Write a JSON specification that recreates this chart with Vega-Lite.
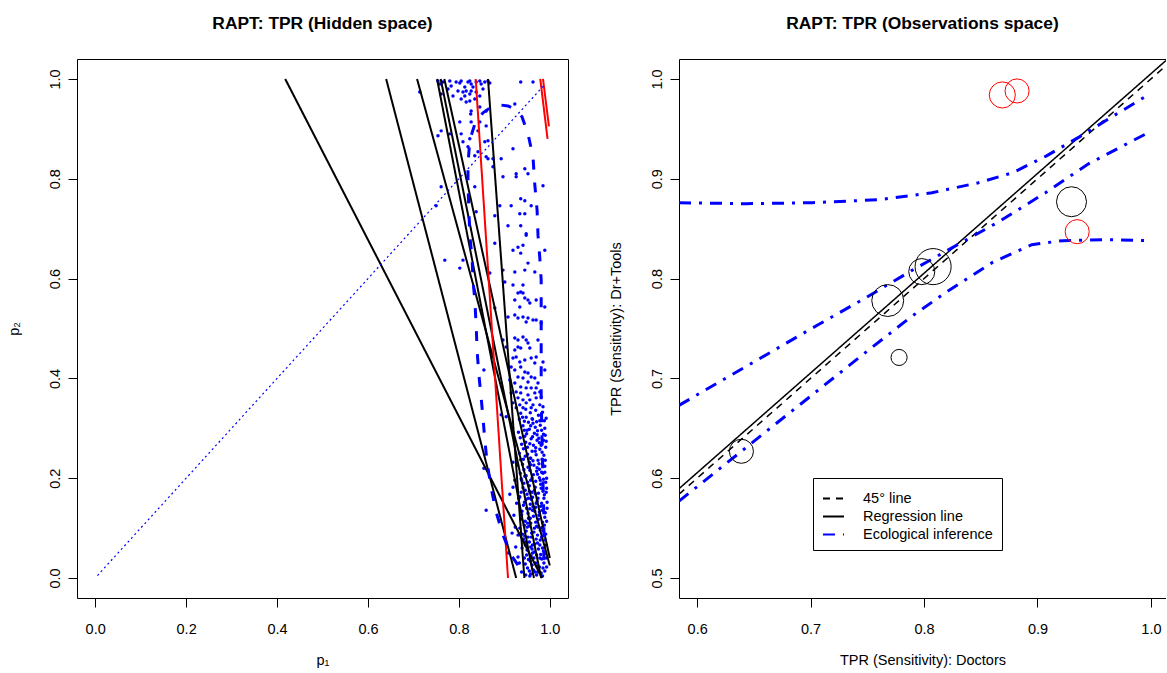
{
  "$schema": "https://vega.github.io/schema/vega-lite/v6.json",
  "background": "white",
  "padding": {"left": 5, "right": 0, "top": 14, "bottom": 0},
  "spacing": 39,
  "config": {
    "font": "Liberation Sans",
    "view": {"stroke": "black", "strokeWidth": 1},
    "axis": {"grid": false, "domain": false, "tickColor": "black", "tickSize": 9, "tickWidth": 1, "labelColor": "black", "labelFontSize": 14.5, "labelFont": "Liberation Sans", "titleColor": "black", "titleFontSize": 14.5, "titleFontWeight": "normal", "titleFont": "Liberation Sans", "labelFlush": false, "labelOverlap": false},
    "axisX": {"labelPadding": 15, "titlePadding": 18},
    "axisY": {"labelAngle": -90, "labelAlign": "center", "labelBaseline": "alphabetic", "labelPadding": 9, "titlePadding": 26},
    "title": {"fontSize": 17.4, "fontWeight": "bold", "font": "Liberation Sans", "color": "black", "anchor": "middle", "frame": "group", "offset": 27}
  },
  "datasets": {
    "diag": [{"p1": 0.005, "p2": 0.005}, {"p1": 0.99, "p2": 0.99}],
    "tomo": [
      {"id": "L1", "p1": 0.418, "p2": 1.0}, {"id": "L1", "p1": 0.983, "p2": 0.0},
      {"id": "L2", "p1": 0.640, "p2": 1.0}, {"id": "L2", "p1": 0.926, "p2": 0.0},
      {"id": "L3", "p1": 0.708, "p2": 1.0}, {"id": "L3", "p1": 1.0, "p2": 0.025},
      {"id": "L4", "p1": 0.752, "p2": 1.0}, {"id": "L4", "p1": 0.965, "p2": 0.0},
      {"id": "L5", "p1": 0.760, "p2": 1.0}, {"id": "L5", "p1": 0.981, "p2": 0.0},
      {"id": "L6", "p1": 0.768, "p2": 1.0}, {"id": "L6", "p1": 1.0, "p2": 0.04},
      {"id": "L7", "p1": 0.864, "p2": 1.0}, {"id": "L7", "p1": 0.944, "p2": 0.0}
    ],
    "redl": [
      {"id": "R1", "p1": 0.837, "p2": 1.0}, {"id": "R1", "p1": 0.908, "p2": 0.0},
      {"id": "R2", "p1": 0.979, "p2": 1.0}, {"id": "R2", "p1": 0.995, "p2": 0.88},
      {"id": "R3", "p1": 0.985, "p2": 1.0}, {"id": "R3", "p1": 0.998, "p2": 0.905}
    ],
    "contour": [
      {"p1": 0.930, "p2": 0.026}, {"p1": 0.915, "p2": 0.046}, {"p1": 0.897, "p2": 0.086}, {"p1": 0.882, "p2": 0.132},
      {"p1": 0.871, "p2": 0.180}, {"p1": 0.862, "p2": 0.232}, {"p1": 0.857, "p2": 0.277}, {"p1": 0.853, "p2": 0.321},
      {"p1": 0.849, "p2": 0.361}, {"p1": 0.844, "p2": 0.407}, {"p1": 0.840, "p2": 0.457}, {"p1": 0.838, "p2": 0.507},
      {"p1": 0.835, "p2": 0.557}, {"p1": 0.831, "p2": 0.597}, {"p1": 0.829, "p2": 0.641}, {"p1": 0.824, "p2": 0.687},
      {"p1": 0.822, "p2": 0.737}, {"p1": 0.820, "p2": 0.788}, {"p1": 0.820, "p2": 0.828}, {"p1": 0.824, "p2": 0.878},
      {"p1": 0.838, "p2": 0.918}, {"p1": 0.853, "p2": 0.932}, {"p1": 0.871, "p2": 0.944}, {"p1": 0.890, "p2": 0.948},
      {"p1": 0.908, "p2": 0.946}, {"p1": 0.926, "p2": 0.938}, {"p1": 0.939, "p2": 0.924}, {"p1": 0.952, "p2": 0.890},
      {"p1": 0.963, "p2": 0.844}, {"p1": 0.967, "p2": 0.788}, {"p1": 0.972, "p2": 0.737}, {"p1": 0.974, "p2": 0.687},
      {"p1": 0.978, "p2": 0.641}, {"p1": 0.981, "p2": 0.597}, {"p1": 0.981, "p2": 0.517}, {"p1": 0.981, "p2": 0.437},
      {"p1": 0.981, "p2": 0.357}, {"p1": 0.983, "p2": 0.277}, {"p1": 0.985, "p2": 0.196}, {"p1": 0.987, "p2": 0.116},
      {"p1": 0.987, "p2": 0.046}, {"p1": 0.983, "p2": 0.012}
    ],
    "dots": [
      {"p1":0.754,"p2":0.996},{"p1":0.758,"p2":0.990},{"p1":0.765,"p2":0.994},{"p1":0.780,"p2":0.996},{"p1":0.783,"p2":0.986},
      {"p1":0.794,"p2":0.994},{"p1":0.802,"p2":0.992},{"p1":0.805,"p2":0.996},{"p1":0.813,"p2":0.984},{"p1":0.820,"p2":0.994},
      {"p1":0.824,"p2":0.996},{"p1":0.827,"p2":0.990},{"p1":0.831,"p2":0.984},{"p1":0.838,"p2":0.994},{"p1":0.846,"p2":0.996},
      {"p1":0.849,"p2":0.990},{"p1":0.857,"p2":0.994},{"p1":0.864,"p2":0.996},{"p1":0.868,"p2":0.992},{"p1":0.853,"p2":0.980},
      {"p1":0.838,"p2":0.974},{"p1":0.827,"p2":0.976},{"p1":0.816,"p2":0.976},{"p1":0.809,"p2":0.974},{"p1":0.798,"p2":0.976},
      {"p1":0.776,"p2":0.980},{"p1":0.761,"p2":0.970},{"p1":0.714,"p2":0.974},{"p1":0.805,"p2":0.960},{"p1":0.824,"p2":0.956},
      {"p1":0.835,"p2":0.960},{"p1":0.846,"p2":0.966},{"p1":0.824,"p2":0.970},{"p1":0.813,"p2":0.966},{"p1":0.787,"p2":0.966},
      {"p1":0.816,"p2":0.954},{"p1":0.936,"p2":0.994},{"p1":0.963,"p2":0.994},{"p1":0.923,"p2":0.950},{"p1":0.860,"p2":0.936},
      {"p1":0.846,"p2":0.944},{"p1":0.827,"p2":0.936},{"p1":0.826,"p2":0.930},{"p1":0.802,"p2":0.914},{"p1":0.805,"p2":0.890},
      {"p1":0.827,"p2":0.914},{"p1":0.846,"p2":0.914},{"p1":0.842,"p2":0.896},{"p1":0.860,"p2":0.906},{"p1":0.857,"p2":0.874},
      {"p1":0.864,"p2":0.876},{"p1":0.761,"p2":0.896},{"p1":0.754,"p2":0.886},{"p1":0.780,"p2":0.890},{"p1":0.809,"p2":0.874},
      {"p1":0.824,"p2":0.880},{"p1":0.820,"p2":0.864},{"p1":0.835,"p2":0.846},{"p1":0.864,"p2":0.840},{"p1":0.875,"p2":0.840},
      {"p1":0.893,"p2":0.840},{"p1":0.860,"p2":0.844},{"p1":0.842,"p2":0.854},{"p1":0.875,"p2":0.824},{"p1":0.897,"p2":0.804},
      {"p1":0.926,"p2":0.810},{"p1":0.926,"p2":0.804},{"p1":0.919,"p2":0.860},{"p1":0.945,"p2":0.820},{"p1":0.952,"p2":0.810},
      {"p1":0.985,"p2":0.786},{"p1":0.936,"p2":0.760},{"p1":0.945,"p2":0.756},{"p1":0.959,"p2":0.746},{"p1":0.915,"p2":0.746},
      {"p1":0.890,"p2":0.746},{"p1":0.934,"p2":0.730},{"p1":0.945,"p2":0.730},{"p1":0.879,"p2":0.726},{"p1":0.908,"p2":0.706},
      {"p1":0.936,"p2":0.706},{"p1":0.948,"p2":0.690},{"p1":0.835,"p2":0.784},{"p1":0.838,"p2":0.734},{"p1":0.761,"p2":0.784},
      {"p1":0.750,"p2":0.746},
      {"p1":0.948,"p2":0.687},{"p1":0.930,"p2":0.663},{"p1":0.941,"p2":0.667},{"p1":0.919,"p2":0.657},{"p1":0.936,"p2":0.651},
      {"p1":0.989,"p2":0.657},{"p1":0.952,"p2":0.631},{"p1":0.945,"p2":0.617},{"p1":0.923,"p2":0.613},{"p1":0.967,"p2":0.613},
      {"p1":0.901,"p2":0.593},{"p1":0.919,"p2":0.587},{"p1":0.941,"p2":0.587},{"p1":0.923,"p2":0.557},{"p1":0.930,"p2":0.571},
      {"p1":0.936,"p2":0.573},{"p1":0.941,"p2":0.571},{"p1":0.945,"p2":0.561},{"p1":0.952,"p2":0.557},{"p1":0.956,"p2":0.551},
      {"p1":0.970,"p2":0.557},{"p1":0.989,"p2":0.543},{"p1":0.934,"p2":0.543},{"p1":0.908,"p2":0.523},{"p1":0.923,"p2":0.527},
      {"p1":0.930,"p2":0.521},{"p1":0.941,"p2":0.523},{"p1":0.948,"p2":0.513},{"p1":0.952,"p2":0.521},{"p1":0.963,"p2":0.517},
      {"p1":0.970,"p2":0.517},{"p1":0.981,"p2":0.511},{"p1":0.897,"p2":0.477},{"p1":0.904,"p2":0.463},{"p1":0.923,"p2":0.481},
      {"p1":0.930,"p2":0.477},{"p1":0.941,"p2":0.483},{"p1":0.948,"p2":0.477},{"p1":0.952,"p2":0.471},{"p1":0.930,"p2":0.463},
      {"p1":0.936,"p2":0.461},{"p1":0.956,"p2":0.461},{"p1":0.974,"p2":0.477},{"p1":0.923,"p2":0.457},{"p1":0.926,"p2":0.443},
      {"p1":0.919,"p2":0.441},{"p1":0.934,"p2":0.433},{"p1":0.945,"p2":0.437},{"p1":0.959,"p2":0.441},{"p1":0.967,"p2":0.431},
      {"p1":0.970,"p2":0.443},{"p1":0.985,"p2":0.433},{"p1":0.915,"p2":0.423},{"p1":0.923,"p2":0.417},{"p1":0.936,"p2":0.423},
      {"p1":0.945,"p2":0.413},{"p1":0.952,"p2":0.411},{"p1":0.930,"p2":0.403},{"p1":0.959,"p2":0.403},{"p1":0.941,"p2":0.401},
      {"p1":0.952,"p2":0.393},{"p1":0.967,"p2":0.401},{"p1":0.974,"p2":0.391},{"p1":0.989,"p2":0.417},{"p1":0.912,"p2":0.397},
      {"p1":0.923,"p2":0.391},{"p1":0.936,"p2":0.383},{"p1":0.948,"p2":0.381},{"p1":0.959,"p2":0.381},{"p1":0.970,"p2":0.381},
      {"p1":0.926,"p2":0.373},{"p1":0.936,"p2":0.371},{"p1":0.952,"p2":0.367},{"p1":0.967,"p2":0.371},{"p1":0.978,"p2":0.373},
      {"p1":0.915,"p2":0.371},{"p1":0.930,"p2":0.361},{"p1":0.941,"p2":0.357},{"p1":0.956,"p2":0.357},{"p1":0.970,"p2":0.361},
      {"p1":0.981,"p2":0.363},{"p1":0.919,"p2":0.351},{"p1":0.934,"p2":0.347},{"p1":0.948,"p2":0.351},{"p1":0.963,"p2":0.347},
      {"p1":0.978,"p2":0.347},{"p1":0.926,"p2":0.341},{"p1":0.941,"p2":0.341},{"p1":0.959,"p2":0.341},{"p1":0.769,"p2":0.637},
      {"p1":0.809,"p2":0.637},{"p1":0.802,"p2":0.621},{"p1":0.868,"p2":0.611},{"p1":0.879,"p2":0.671},{"p1":0.897,"p2":0.617},
      {"p1":0.879,"p2":0.541},{"p1":0.855,"p2":0.417},
      {"p1":0.893,"p2":0.327},{"p1":0.904,"p2":0.323},{"p1":0.860,"p2":0.136},{"p1":0.855,"p2":0.220},{"p1":0.919,"p2":0.232},
      {"p1":0.923,"p2":0.196},{"p1":0.919,"p2":0.182},{"p1":0.930,"p2":0.086},{"p1":0.941,"p2":0.076},{"p1":0.930,"p2":0.042},
      {"p1":0.989,"p2":0.212},{"p1":0.992,"p2":0.172},{"p1":0.985,"p2":0.343},{"p1":0.921,"p2":0.126},
      {"p1":0.936,"p2":0.330},{"p1":0.948,"p2":0.322},{"p1":0.962,"p2":0.318},{"p1":0.975,"p2":0.326},{"p1":0.988,"p2":0.315},
      {"p1":0.941,"p2":0.305},{"p1":0.955,"p2":0.298},{"p1":0.968,"p2":0.302},{"p1":0.982,"p2":0.296},{"p1":0.931,"p2":0.292},
      {"p1":0.945,"p2":0.284},{"p1":0.959,"p2":0.279},{"p1":0.972,"p2":0.287},{"p1":0.986,"p2":0.276},{"p1":0.938,"p2":0.268},
      {"p1":0.951,"p2":0.262},{"p1":0.964,"p2":0.266},{"p1":0.978,"p2":0.258},{"p1":0.991,"p2":0.262},{"p1":0.933,"p2":0.250},
      {"p1":0.946,"p2":0.244},{"p1":0.957,"p2":0.240},{"p1":0.970,"p2":0.247},{"p1":0.983,"p2":0.238},{"p1":0.940,"p2":0.228},
      {"p1":0.952,"p2":0.222},{"p1":0.965,"p2":0.226},{"p1":0.977,"p2":0.218},{"p1":0.989,"p2":0.224},{"p1":0.935,"p2":0.210},
      {"p1":0.948,"p2":0.205},{"p1":0.961,"p2":0.200},{"p1":0.973,"p2":0.208},{"p1":0.986,"p2":0.198},{"p1":0.943,"p2":0.190},
      {"p1":0.955,"p2":0.185},{"p1":0.968,"p2":0.182},{"p1":0.980,"p2":0.188},{"p1":0.993,"p2":0.180},{"p1":0.937,"p2":0.172},
      {"p1":0.950,"p2":0.168},{"p1":0.962,"p2":0.162},{"p1":0.975,"p2":0.170},{"p1":0.987,"p2":0.160},{"p1":0.944,"p2":0.152},
      {"p1":0.957,"p2":0.148},{"p1":0.969,"p2":0.142},{"p1":0.982,"p2":0.150},{"p1":0.994,"p2":0.140},{"p1":0.939,"p2":0.134},
      {"p1":0.952,"p2":0.130},{"p1":0.964,"p2":0.124},{"p1":0.977,"p2":0.132},{"p1":0.989,"p2":0.122},{"p1":0.946,"p2":0.114},
      {"p1":0.958,"p2":0.110},{"p1":0.971,"p2":0.104},{"p1":0.984,"p2":0.112},{"p1":0.934,"p2":0.100},{"p1":0.948,"p2":0.094},
      {"p1":0.960,"p2":0.090},{"p1":0.973,"p2":0.086},{"p1":0.986,"p2":0.094},{"p1":0.942,"p2":0.078},{"p1":0.955,"p2":0.072},
      {"p1":0.967,"p2":0.068},{"p1":0.979,"p2":0.076},{"p1":0.992,"p2":0.066},{"p1":0.950,"p2":0.056},{"p1":0.962,"p2":0.050},
      {"p1":0.975,"p2":0.058},{"p1":0.988,"p2":0.048},{"p1":0.944,"p2":0.040},{"p1":0.957,"p2":0.034},{"p1":0.969,"p2":0.030},
      {"p1":0.982,"p2":0.038},{"p1":0.951,"p2":0.020},{"p1":0.964,"p2":0.016},{"p1":0.977,"p2":0.022},{"p1":0.989,"p2":0.014},
      {"p1":0.958,"p2":0.008},{"p1":0.971,"p2":0.006},{"p1":0.984,"p2":0.004},
      {"p1":0.953,"p2":0.312},{"p1":0.966,"p2":0.290},{"p1":0.979,"p2":0.306},{"p1":0.947,"p2":0.272},{"p1":0.961,"p2":0.254},
      {"p1":0.974,"p2":0.236},{"p1":0.987,"p2":0.246},{"p1":0.942,"p2":0.238},{"p1":0.956,"p2":0.216},{"p1":0.969,"p2":0.194},
      {"p1":0.982,"p2":0.212},{"p1":0.946,"p2":0.176},{"p1":0.959,"p2":0.158},{"p1":0.972,"p2":0.154},{"p1":0.985,"p2":0.174},
      {"p1":0.949,"p2":0.140},{"p1":0.962,"p2":0.136},{"p1":0.975,"p2":0.118},{"p1":0.988,"p2":0.106},{"p1":0.953,"p2":0.120},
      {"p1":0.966,"p2":0.100},{"p1":0.979,"p2":0.096},{"p1":0.945,"p2":0.084},{"p1":0.958,"p2":0.062},{"p1":0.971,"p2":0.046},
      {"p1":0.984,"p2":0.060},{"p1":0.961,"p2":0.026},{"p1":0.974,"p2":0.012},{"p1":0.987,"p2":0.030},{"p1":0.949,"p2":0.046},
      {"p1":0.939,"p2":0.060},{"p1":0.936,"p2":0.118},{"p1":0.932,"p2":0.160},{"p1":0.938,"p2":0.196},{"p1":0.991,"p2":0.088},
      {"p1":0.993,"p2":0.200},{"p1":0.990,"p2":0.286},{"p1":0.976,"p2":0.280},{"p1":0.963,"p2":0.310},{"p1":0.950,"p2":0.296},
      {"p1":0.981,"p2":0.266},{"p1":0.968,"p2":0.254},{"p1":0.955,"p2":0.232},{"p1":0.984,"p2":0.228},{"p1":0.971,"p2":0.214},
      {"p1":0.958,"p2":0.196},{"p1":0.945,"p2":0.204},{"p1":0.979,"p2":0.196},{"p1":0.966,"p2":0.176},{"p1":0.953,"p2":0.160},
      {"p1":0.980,"p2":0.144},{"p1":0.967,"p2":0.134},{"p1":0.954,"p2":0.104},{"p1":0.970,"p2":0.078},{"p1":0.982,"p2":0.082},
      {"p1":0.959,"p2":0.082},{"p1":0.946,"p2":0.066},{"p1":0.965,"p2":0.040},{"p1":0.978,"p2":0.040},{"p1":0.955,"p2":0.014},
      {"p1":0.940,"p2":0.322},{"p1":0.957,"p2":0.331},{"p1":0.971,"p2":0.313},{"p1":0.984,"p2":0.332},{"p1":0.944,"p2":0.314},
      {"p1":0.958,"p2":0.305},{"p1":0.973,"p2":0.295},{"p1":0.989,"p2":0.300},{"p1":0.935,"p2":0.281},{"p1":0.949,"p2":0.289},
      {"p1":0.962,"p2":0.283},{"p1":0.977,"p2":0.271},{"p1":0.992,"p2":0.274},{"p1":0.942,"p2":0.259},{"p1":0.956,"p2":0.269},
      {"p1":0.969,"p2":0.261},{"p1":0.983,"p2":0.252},{"p1":0.936,"p2":0.237},{"p1":0.951,"p2":0.248},{"p1":0.963,"p2":0.235},
      {"p1":0.976,"p2":0.229},{"p1":0.990,"p2":0.236},{"p1":0.943,"p2":0.217},{"p1":0.958,"p2":0.227},{"p1":0.972,"p2":0.221},
      {"p1":0.985,"p2":0.210},{"p1":0.937,"p2":0.199},{"p1":0.951,"p2":0.192},{"p1":0.964,"p2":0.207},{"p1":0.977,"p2":0.201},
      {"p1":0.991,"p2":0.192},{"p1":0.941,"p2":0.181},{"p1":0.955,"p2":0.174},{"p1":0.968,"p2":0.169},{"p1":0.981,"p2":0.180},
      {"p1":0.934,"p2":0.163},{"p1":0.948,"p2":0.158},{"p1":0.961,"p2":0.172},{"p1":0.974,"p2":0.160},{"p1":0.988,"p2":0.167},
      {"p1":0.942,"p2":0.146},{"p1":0.956,"p2":0.139},{"p1":0.970,"p2":0.150},{"p1":0.983,"p2":0.136},{"p1":0.994,"p2":0.152},
      {"p1":0.938,"p2":0.127},{"p1":0.951,"p2":0.110},{"p1":0.963,"p2":0.143},{"p1":0.976,"p2":0.126},{"p1":0.990,"p2":0.131},
      {"p1":0.944,"p2":0.106},{"p1":0.957,"p2":0.120},{"p1":0.969,"p2":0.112},{"p1":0.982,"p2":0.101},{"p1":0.993,"p2":0.114},
      {"p1":0.940,"p2":0.088},{"p1":0.952,"p2":0.082},{"p1":0.965,"p2":0.092},{"p1":0.978,"p2":0.066},{"p1":0.990,"p2":0.076},
      {"p1":0.947,"p2":0.072},{"p1":0.961,"p2":0.058},{"p1":0.973,"p2":0.070},{"p1":0.986,"p2":0.054},{"p1":0.953,"p2":0.037},
      {"p1":0.966,"p2":0.052},{"p1":0.980,"p2":0.047},{"p1":0.992,"p2":0.040},{"p1":0.946,"p2":0.028},{"p1":0.959,"p2":0.044},
      {"p1":0.972,"p2":0.024},{"p1":0.985,"p2":0.020},{"p1":0.956,"p2":0.004},{"p1":0.968,"p2":0.012},{"p1":0.981,"p2":0.010},
      {"p1":0.993,"p2":0.022},{"p1":0.962,"p2":0.066},{"p1":0.974,"p2":0.102},{"p1":0.987,"p2":0.086},{"p1":0.950,"p2":0.102},
      {"p1":0.924,"p2":0.102},{"p1":0.927,"p2":0.150},{"p1":0.925,"p2":0.062},{"p1":0.929,"p2":0.226},{"p1":0.912,"p2":0.168},
      {"p1":0.917,"p2":0.090},{"p1":0.908,"p2":0.050},{"p1":0.933,"p2":0.030},{"p1":0.938,"p2":0.012},{"p1":0.947,"p2":0.006},
      {"p1":0.958,"p2":0.240},{"p1":0.972,"p2":0.276},{"p1":0.986,"p2":0.288},{"p1":0.944,"p2":0.296},{"p1":0.961,"p2":0.319},
      {"p1":0.978,"p2":0.315},{"p1":0.992,"p2":0.320},{"p1":0.933,"p2":0.318},{"p1":0.947,"p2":0.338},{"p1":0.969,"p2":0.336}
    ],
    "ref": [
      {"series": "45° line", "curve": "a", "x": 0.584, "y": 0.584},
      {"series": "45° line", "curve": "a", "x": 1.0133, "y": 1.0133},
      {"series": "Regression line", "curve": "b", "x": 0.584, "y": 0.5895},
      {"series": "Regression line", "curve": "b", "x": 1.0133, "y": 1.0185}
    ],
    "ei": [
      {"series": "Ecological inference", "curve": "u", "x": 0.584, "y": 0.876},
      {"series": "Ecological inference", "curve": "u", "x": 0.643, "y": 0.875},
      {"series": "Ecological inference", "curve": "u", "x": 0.701, "y": 0.876},
      {"series": "Ecological inference", "curve": "u", "x": 0.760, "y": 0.879},
      {"series": "Ecological inference", "curve": "u", "x": 0.807, "y": 0.886},
      {"series": "Ecological inference", "curve": "u", "x": 0.848, "y": 0.896},
      {"series": "Ecological inference", "curve": "u", "x": 0.878, "y": 0.906},
      {"series": "Ecological inference", "curve": "u", "x": 0.908, "y": 0.923},
      {"series": "Ecological inference", "curve": "u", "x": 0.937, "y": 0.942},
      {"series": "Ecological inference", "curve": "u", "x": 0.967, "y": 0.963},
      {"series": "Ecological inference", "curve": "u", "x": 0.996, "y": 0.983},
      {"series": "Ecological inference", "curve": "m", "x": 0.584, "y": 0.673},
      {"series": "Ecological inference", "curve": "m", "x": 0.672, "y": 0.731},
      {"series": "Ecological inference", "curve": "m", "x": 0.707, "y": 0.754},
      {"series": "Ecological inference", "curve": "m", "x": 0.749, "y": 0.781},
      {"series": "Ecological inference", "curve": "m", "x": 0.789, "y": 0.808},
      {"series": "Ecological inference", "curve": "m", "x": 0.825, "y": 0.831},
      {"series": "Ecological inference", "curve": "m", "x": 0.866, "y": 0.857},
      {"series": "Ecological inference", "curve": "m", "x": 0.907, "y": 0.886},
      {"series": "Ecological inference", "curve": "m", "x": 0.945, "y": 0.915},
      {"series": "Ecological inference", "curve": "m", "x": 0.999, "y": 0.947},
      {"series": "Ecological inference", "curve": "l", "x": 0.584, "y": 0.577},
      {"series": "Ecological inference", "curve": "l", "x": 0.661, "y": 0.647},
      {"series": "Ecological inference", "curve": "l", "x": 0.754, "y": 0.731},
      {"series": "Ecological inference", "curve": "l", "x": 0.789, "y": 0.762},
      {"series": "Ecological inference", "curve": "l", "x": 0.819, "y": 0.786},
      {"series": "Ecological inference", "curve": "l", "x": 0.860, "y": 0.816},
      {"series": "Ecological inference", "curve": "l", "x": 0.895, "y": 0.834},
      {"series": "Ecological inference", "curve": "l", "x": 0.922, "y": 0.838},
      {"series": "Ecological inference", "curve": "l", "x": 0.960, "y": 0.839},
      {"series": "Ecological inference", "curve": "l", "x": 0.996, "y": 0.838}
    ],
    "circ": [
      {"x": 0.639, "y": 0.627, "n": 58, "flag": "in"},
      {"x": 0.778, "y": 0.721, "n": 26, "flag": "in"},
      {"x": 0.768, "y": 0.778, "n": 102, "flag": "in"},
      {"x": 0.798, "y": 0.807, "n": 68, "flag": "in"},
      {"x": 0.808, "y": 0.812, "n": 130, "flag": "in"},
      {"x": 0.930, "y": 0.877, "n": 90, "flag": "in"},
      {"x": 0.869, "y": 0.984, "n": 68, "flag": "out"},
      {"x": 0.882, "y": 0.988, "n": 58, "flag": "out"},
      {"x": 0.935, "y": 0.847, "n": 58, "flag": "out"}
    ]
  },
  "hconcat": [
    {
      "width": 491,
      "height": 539,
      "title": {"text": "RAPT: TPR (Hidden space)"},
      "encoding": {
        "x": {"field": "p1", "type": "quantitative", "scale": {"domain": [-0.04, 1.04], "nice": false, "zero": false}, "axis": {"values": [0, 0.2, 0.4, 0.6, 0.8, 1], "format": ".1f", "title": "p₁"}},
        "y": {"field": "p2", "type": "quantitative", "scale": {"domain": [-0.04, 1.04], "nice": false, "zero": false}, "axis": {"values": [0, 0.2, 0.4, 0.6, 0.8, 1], "format": ".1f", "title": "p₂"}}
      },
      "layer": [
        {"data": {"name": "dots"}, "mark": {"type": "circle", "size": 12, "color": "#0000FF", "opacity": 1}},
        {"data": {"name": "tomo"}, "mark": {"type": "line", "color": "black", "strokeWidth": 2}, "encoding": {"detail": {"field": "id", "type": "nominal"}, "order": {"value": null}}},
        {"data": {"name": "redl"}, "mark": {"type": "line", "color": "#FF0000", "strokeWidth": 2}, "encoding": {"detail": {"field": "id", "type": "nominal"}, "order": {"value": null}}},
        {"data": {"name": "contour"}, "mark": {"type": "line", "color": "#0000FF", "strokeWidth": 3, "strokeDash": [10, 13]}, "encoding": {"order": {"value": null}}},
        {"data": {"name": "diag"}, "mark": {"type": "line", "color": "#0000FF", "strokeWidth": 1.2, "strokeDash": [2, 3]}, "encoding": {"order": {"value": null}}}
      ]
    },
    {
      "width": 487,
      "height": 539,
      "view": {"stroke": null},
      "title": {"text": "RAPT: TPR (Observations space)"},
      "layer": [
        {
          "data": {"name": "ref"},
          "mark": {"type": "line", "strokeWidth": 1.5, "clip": true},
          "encoding": {
            "x": {"field": "x", "type": "quantitative", "scale": {"domain": [0.584, 1.0133], "nice": false, "zero": false}, "axis": {"values": [0.6, 0.7, 0.8, 0.9, 1.0], "format": ".1f", "title": "TPR (Sensitivity): Doctors", "domain": true, "domainColor": "black"}},
            "y": {"field": "y", "type": "quantitative", "scale": {"domain": [0.48, 1.02], "nice": false, "zero": false}, "axis": {"values": [0.5, 0.6, 0.7, 0.8, 0.9, 1.0], "format": ".1f", "title": "TPR (Sensitivity): Dr+Tools", "domain": true, "domainColor": "black"}},
            "color": {"field": "series", "type": "nominal", "scale": {"domain": ["45° line", "Regression line", "Ecological inference"], "range": ["black", "black", "#0000FF"]},
              "legend": {"orient": "none", "legendX": 736, "legendY": 419, "title": null, "strokeColor": "black", "fillColor": "white", "padding": 9, "cornerRadius": 0, "symbolType": "stroke", "symbolSize": 441, "symbolStrokeWidth": 2, "labelFontSize": 14.5, "labelColor": "black", "labelOffset": 18, "rowPadding": 0}},
            "strokeDash": {"field": "series", "type": "nominal", "scale": {"domain": ["45° line", "Regression line", "Ecological inference"], "range": [[7, 6], [1, 0], [12, 8, 3, 8]]},
              "legend": {"orient": "none", "legendX": 736, "legendY": 419, "title": null, "strokeColor": "black", "fillColor": "white", "padding": 9, "cornerRadius": 0, "symbolType": "stroke", "symbolSize": 441, "symbolStrokeWidth": 2, "labelFontSize": 14.5, "labelColor": "black", "labelOffset": 18, "rowPadding": 0}},
            "detail": {"field": "curve", "type": "nominal"}
          }
        },
        {
          "data": {"name": "ei"},
          "mark": {"type": "line", "strokeWidth": 3, "clip": true},
          "encoding": {
            "x": {"field": "x", "type": "quantitative", "scale": {"domain": [0.584, 1.0133], "nice": false, "zero": false}, "axis": null},
            "y": {"field": "y", "type": "quantitative", "scale": {"domain": [0.48, 1.02], "nice": false, "zero": false}},
            "color": {"field": "series", "type": "nominal", "scale": {"domain": ["45° line", "Regression line", "Ecological inference"], "range": ["black", "black", "#0000FF"]}},
            "strokeDash": {"field": "series", "type": "nominal", "scale": {"domain": ["45° line", "Regression line", "Ecological inference"], "range": [[7, 6], [1, 0], [12, 8, 3, 8]]}},
            "detail": {"field": "curve", "type": "nominal"},
            "order": {"value": null}
          }
        },
        {
          "data": {"name": "circ"},
          "mark": {"type": "point", "shape": "circle", "filled": false, "strokeWidth": 1, "clip": true, "opacity": 1},
          "encoding": {
            "x": {"field": "x", "type": "quantitative", "scale": {"domain": [0.584, 1.0133], "nice": false, "zero": false}, "axis": null},
            "y": {"field": "y", "type": "quantitative", "scale": {"domain": [0.48, 1.02], "nice": false, "zero": false}},
            "stroke": {"field": "flag", "type": "nominal", "scale": {"domain": ["in", "out"], "range": ["black", "#FF0000"]}, "legend": null},
            "size": {"field": "n", "type": "quantitative", "scale": {"domain": [0, 130], "range": [0, 1300]}, "legend": null}
          }
        },
        {
          "data": {"name": "circ"},
          "mark": {"type": "point", "opacity": 0},
          "encoding": {
            "x": {"field": "x", "type": "quantitative", "scale": {"domain": [0.584, 1.0133], "nice": false, "zero": false}, "axis": {"orient": "top", "labels": false, "ticks": false, "domain": true, "domainColor": "black", "title": null}},
            "y": {"field": "y", "type": "quantitative", "scale": {"domain": [0.48, 1.02], "nice": false, "zero": false}}
          }
        }
      ],
      "resolve": {"axis": {"x": "independent"}}
    }
  ]
}
